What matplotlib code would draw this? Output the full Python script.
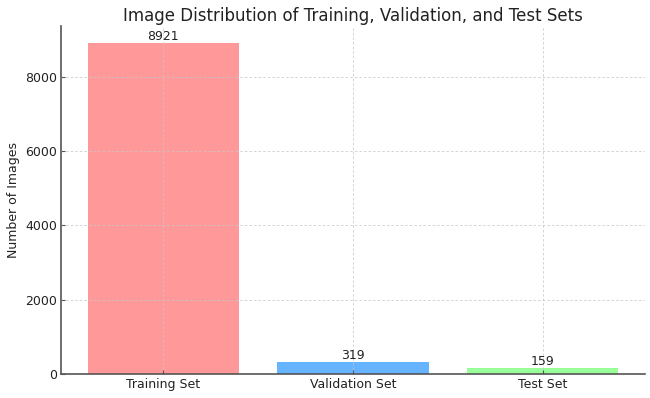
import matplotlib
matplotlib.use("Agg")
import matplotlib.pyplot as plt

categories = ["Training Set", "Validation Set", "Test Set"]
counts = [8921, 319, 159]
colors = ["#ff9999", "#66b3ff", "#99ff99"]

fs = 9
fig = plt.figure(figsize=(6.5, 3.98), dpi=100)
ax = fig.add_axes([61/650, 1-374/398, (645-61)/650, (374-26)/398])
bars = ax.bar(categories, counts, color=colors, width=0.8)
for b, v in zip(bars, counts):
    ax.text(b.get_x() + b.get_width()/2, b.get_height(), str(v),
            ha="center", va="bottom", fontsize=fs, color="#222222")
ax.set_title("Image Distribution of Training, Validation, and Test Sets",
             fontsize=12, pad=3.8, color="#222222")
ax.set_ylabel("Number of Images", fontsize=fs, color="#222222")
ax.yaxis.set_label_coords(-0.07, 0.5)
ax.set_axisbelow(False)
ax.grid(True, linestyle=(0, (3, 2.5)), color="#c8c8c8", linewidth=0.6, alpha=0.9)
for s in ["top", "right"]:
    ax.spines[s].set_visible(False)
for s in ["left", "bottom"]:
    ax.spines[s].set_color("#555555")
    ax.spines[s].set_linewidth(1.2)
ax.tick_params(direction="in", labelsize=fs, length=3, color="#555555",
               labelcolor="#222222", pad=3)
fig.savefig("out.png", dpi=100)
